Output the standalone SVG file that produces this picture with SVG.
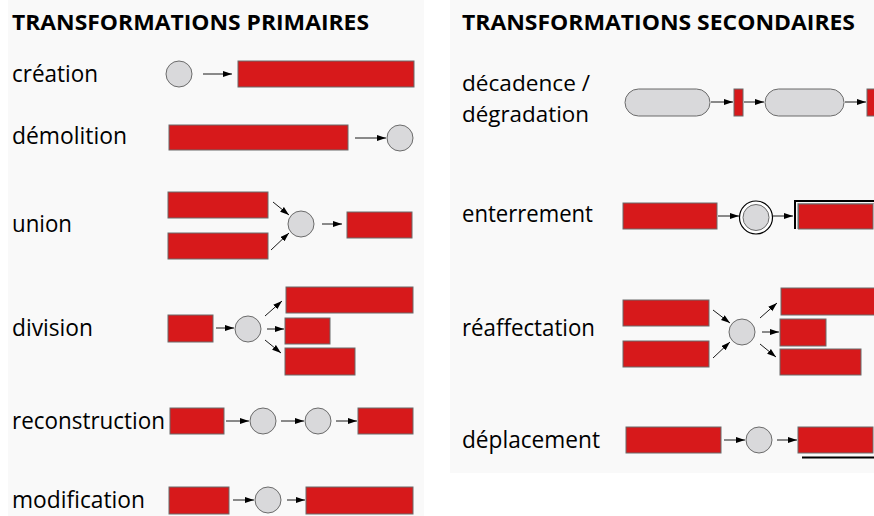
<svg xmlns="http://www.w3.org/2000/svg" width="874" height="516" viewBox="0 0 874 516">
<defs>
<marker id="ah" markerUnits="userSpaceOnUse" markerWidth="10" markerHeight="7" refX="9" refY="3" orient="auto">
<path d="M0,0 L9,3 L0,6 z" fill="#000"/>
</marker>
<style>
.bg{fill:#f9f9f9}
.h{font-family:"Open Sans","Liberation Sans",sans-serif;font-weight:bold;font-size:22px;fill:#000}
.l{font-family:"Open Sans","Liberation Sans",sans-serif;font-size:23px;fill:#000}
.l2{font-family:"Open Sans","Liberation Sans",sans-serif;font-size:22px;fill:#000}
.r{fill:#d7191b;stroke:#6b6b6b;stroke-width:1}
.c{fill:#d9d9db;stroke:#6b6b6b;stroke-width:1}
.a{stroke:#000;stroke-width:0.9;fill:none;marker-end:url(#ah)}
.k{stroke:#000;stroke-width:2;fill:none}
</style>
</defs>
<rect width="874" height="516" fill="#fff"/>
<rect class="bg" x="8" y="0" width="416" height="516"/>
<rect class="bg" x="450" y="0" width="424" height="473"/>

<g id="titles">
<text class="h" x="12" y="30" textLength="357" lengthAdjust="spacingAndGlyphs">TRANSFORMATIONS PRIMAIRES</text>
<text class="h" x="462" y="30" textLength="393" lengthAdjust="spacingAndGlyphs">TRANSFORMATIONS SECONDAIRES</text>
</g>

<g id="creation">
<text class="l" x="12" y="82" textLength="86" lengthAdjust="spacingAndGlyphs">création</text>
<circle class="c" cx="179" cy="74" r="13"/>
<rect class="r" x="238" y="61" width="176" height="26"/>
</g>
<g id="demolition">
<text class="l" x="12" y="144" textLength="115" lengthAdjust="spacingAndGlyphs">démolition</text>
<rect class="r" x="169" y="125" width="179" height="25"/>
<circle class="c" cx="400" cy="138" r="13"/>
</g>
<g id="union">
<text class="l" x="12" y="232" textLength="60" lengthAdjust="spacingAndGlyphs">union</text>
<rect class="r" x="168" y="192" width="100" height="26"/>
<rect class="r" x="168" y="233" width="100" height="26"/>
<circle class="c" cx="301" cy="224" r="13"/>
<rect class="r" x="347" y="212" width="65" height="26"/>
</g>
<g id="division">
<text class="l" x="12" y="336" textLength="81" lengthAdjust="spacingAndGlyphs">division</text>
<rect class="r" x="168" y="315" width="45" height="27"/>
<circle class="c" cx="248" cy="329" r="13"/>
<rect class="r" x="286" y="287" width="127" height="26"/>
<rect class="r" x="285" y="318" width="45" height="26"/>
<rect class="r" x="285" y="348" width="70" height="27"/>
</g>
<g id="reconstruction">
<text class="l" x="12" y="429" textLength="153" lengthAdjust="spacingAndGlyphs">reconstruction</text>
<rect class="r" x="170" y="408" width="54" height="26"/>
<circle class="c" cx="263" cy="421" r="13"/>
<circle class="c" cx="318" cy="421" r="13"/>
<rect class="r" x="358" y="408" width="55" height="26"/>
</g>
<g id="modification">
<text class="l" x="12" y="508" textLength="133" lengthAdjust="spacingAndGlyphs">modification</text>
<rect class="r" x="169" y="487" width="60" height="27"/>
<circle class="c" cx="268" cy="500" r="13"/>
<rect class="r" x="306" y="487" width="107" height="27"/>
</g>

<g id="decadence">
<text class="l2" x="462" y="91" textLength="128" lengthAdjust="spacingAndGlyphs">décadence /</text>
<text class="l2" x="462" y="122" textLength="127" lengthAdjust="spacingAndGlyphs">dégradation</text>
<rect class="c" x="625" y="89" width="85" height="27" rx="13.5"/>
<rect class="r" x="734" y="89" width="9" height="27"/>
<rect class="c" x="765" y="89" width="79" height="27" rx="13.5"/>
<rect class="r" x="867" y="89" width="10" height="27"/>
</g>
<g id="enterrement">
<text class="l" x="462" y="222" textLength="131" lengthAdjust="spacingAndGlyphs">enterrement</text>
<rect class="r" x="623" y="203" width="94" height="26"/>
<circle cx="756" cy="217.5" r="16.5" fill="#fff" stroke="#000" stroke-width="1.2"/>
<circle class="c" cx="756" cy="217.5" r="13"/>
<path class="k" d="M795,229 V201 H874"/>
<path d="M797.5,229 V203.5 H874" fill="none" stroke="#9a9a9a" stroke-width="0.8"/>
<rect class="r" x="798.5" y="204" width="74.5" height="25"/>
</g>
<g id="reaffectation">
<text class="l" x="462" y="336" textLength="133" lengthAdjust="spacingAndGlyphs">réaffectation</text>
<rect class="r" x="623" y="300" width="86" height="26"/>
<rect class="r" x="623" y="341" width="86" height="26"/>
<circle class="c" cx="742" cy="332" r="13"/>
<rect class="r" x="781" y="288" width="95" height="27"/>
<rect class="r" x="780" y="319" width="46" height="27"/>
<rect class="r" x="780" y="349" width="81" height="26"/>
</g>
<g id="deplacement">
<text class="l" x="462" y="448" textLength="138" lengthAdjust="spacingAndGlyphs">déplacement</text>
<rect class="r" x="626" y="427" width="95" height="26"/>
<circle class="c" cx="759" cy="440" r="13"/>
<rect class="r" x="798" y="427" width="75" height="26"/>
<line class="k" x1="802" y1="457.5" x2="874" y2="457.5"/>
</g>

<g id="connectors">
<line class="a" x1="203" y1="74" x2="232" y2="74"/>
<line class="a" x1="355" y1="138" x2="386" y2="138"/>
<line class="a" x1="273" y1="202" x2="289" y2="215"/>
<line class="a" x1="271" y1="250" x2="289" y2="233"/>
<line class="a" x1="322" y1="224" x2="342" y2="224"/>
<line class="a" x1="216" y1="328" x2="234" y2="328"/>
<line class="a" x1="265" y1="316" x2="282" y2="301"/>
<line class="a" x1="267" y1="329" x2="284" y2="329"/>
<line class="a" x1="265" y1="340" x2="281" y2="353"/>
<line class="a" x1="226" y1="421" x2="249" y2="421"/>
<line class="a" x1="281" y1="421" x2="304" y2="421"/>
<line class="a" x1="336" y1="421" x2="357" y2="421"/>
<line class="a" x1="233" y1="500" x2="254" y2="500"/>
<line class="a" x1="287" y1="500" x2="305" y2="500"/>
<line class="a" x1="711" y1="102" x2="733" y2="102"/>
<line class="a" x1="744" y1="102" x2="764" y2="102"/>
<line class="a" x1="845" y1="102" x2="866" y2="102"/>
<line class="a" x1="718" y1="216" x2="739" y2="216"/>
<line class="a" x1="773" y1="216" x2="793" y2="216"/>
<line class="a" x1="713" y1="310" x2="730" y2="323"/>
<line class="a" x1="713" y1="358" x2="730" y2="342"/>
<line class="a" x1="760" y1="318" x2="777" y2="303"/>
<line class="a" x1="762" y1="332" x2="779" y2="332"/>
<line class="a" x1="760" y1="344" x2="776" y2="357"/>
<line class="a" x1="724" y1="440" x2="745" y2="440"/>
<line class="a" x1="777" y1="440" x2="797" y2="440"/>
</g>
</svg>
